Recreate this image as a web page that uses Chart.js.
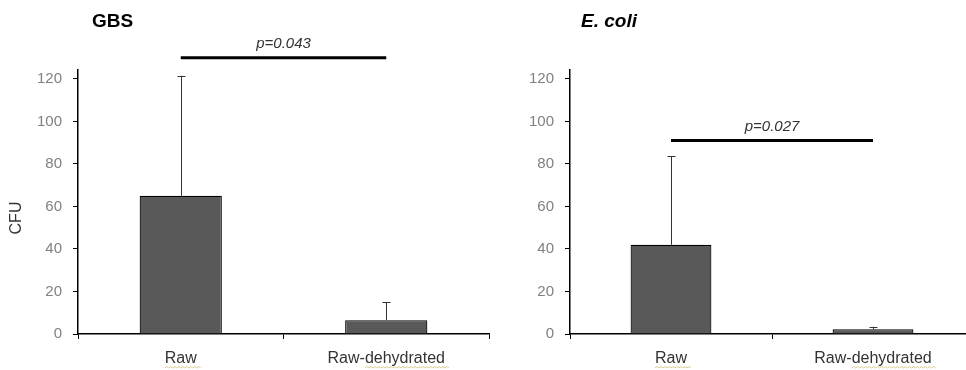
<!DOCTYPE html>
<html>
<head>
<meta charset="utf-8">
<script src="https://cdn.jsdelivr.net/npm/chart.js@4.4.1/dist/chart.umd.min.js"></script>
<style>
  body { margin: 0; background: #fff; overflow: hidden; }
  .panel { position: absolute; top: 0; }
</style>
</head>
<body>
<div class="panel" style="left:0px"><canvas id="gbs-chart" width="490" height="370"></canvas></div>
<div class="panel" style="left:490px"><canvas id="ecoli-chart" width="486" height="370"></canvas></div>
<script>
// Data (CFU, mean and top of the error bar)
const categories = ['Raw', 'Raw-dehydrated'];
const yTickValues = [0, 20, 40, 60, 80, 100, 120];

const gbsMeans = [65, 6.5];
const gbsErrorTops = [121.5, 15];
const gbsPText = 'p=0.043';
const gbsPLevel = 130;

const ecoliMeans = [42, 2.2];
const ecoliErrorTops = [83.6, 3.4];
const ecoliPText = 'p=0.027';
const ecoliPLevel = 91;

const fontFamily = "'Liberation Sans', Arial, sans-serif";

// Plugin that draws the error bars, the p-value bracket, titles and the CFU label
const extrasPlugin = {
    id: 'extras',
    afterDraw(chart, args, opts) {
        const ctx = chart.ctx;
        const xs = chart.scales.x;
        const ys = chart.scales.y;
        ctx.save();

        // Error bars (upper half only, with a small cap)
        ctx.strokeStyle = '#333';
        ctx.lineWidth = 1;
        opts.errorTops.forEach((top, i) => {
            const x = Math.round(xs.getPixelForValue(i)) + 0.5;
            const yMean = ys.getPixelForValue(opts.means[i]);
            const yTop = ys.getPixelForValue(top);
            ctx.beginPath();
            ctx.moveTo(x, yMean);
            ctx.lineTo(x, yTop);
            ctx.moveTo(x - 4, Math.round(yTop) + 0.5);
            ctx.lineTo(x + 4, Math.round(yTop) + 0.5);
            ctx.stroke();
        });

        // Significance line between the two bars
        const x1 = xs.getPixelForValue(0);
        const x2 = xs.getPixelForValue(1);
        const yLine = ys.getPixelForValue(opts.pLevel);
        ctx.strokeStyle = '#000';
        ctx.lineWidth = 3;
        ctx.beginPath();
        ctx.moveTo(x1, yLine);
        ctx.lineTo(x2, yLine);
        ctx.stroke();

        ctx.fillStyle = '#333';
        ctx.font = 'italic 15px ' + fontFamily;
        ctx.textAlign = 'center';
        ctx.textBaseline = 'alphabetic';
        ctx.fillText(opts.pText, (x1 + x2) / 2, yLine - 10);

        // Panel title
        ctx.fillStyle = '#000';
        ctx.font = (opts.italicTitle ? 'italic ' : '') + 'bold 19px ' + fontFamily;
        ctx.textAlign = 'left';
        ctx.textBaseline = 'middle';
        ctx.fillText(opts.title, opts.titleX, 22);

        // Y axis label
        if (opts.yLabel) {
            ctx.save();
            ctx.translate(17, 218);
            ctx.rotate(-Math.PI / 2);
            ctx.fillStyle = '#333';
            ctx.font = '16px ' + fontFamily;
            ctx.textAlign = 'center';
            ctx.textBaseline = 'middle';
            ctx.fillText(opts.yLabel, 0, 0);
            ctx.restore();
        }

        // Spell-check squiggles under the category labels
        ctx.font = '16px ' + fontFamily;
        ctx.strokeStyle = '#d9c98a';
        ctx.lineWidth = 1;
        categories.forEach((label, i) => {
            const cx = xs.getPixelForValue(i);
            const full = ctx.measureText(label).width;
            const skip = label.indexOf('-') >= 0 ? ctx.measureText(label.slice(0, label.indexOf('-') + 1)).width : 0;
            let sx = cx - full / 2 + skip;
            const ex = cx + full / 2 + 2;
            const sy = 368;
            ctx.beginPath();
            ctx.moveTo(sx, sy);
            let up = true;
            while (sx < ex) {
                sx += 2;
                ctx.lineTo(sx, up ? sy - 1.5 : sy);
                up = !up;
            }
            ctx.stroke();
        });

        ctx.restore();
    }
};

function makePanel(canvasId, means, errorTops, pText, pLevel, title, italicTitle, titleX, yLabel, yWidth, padRight) {
    let ctx = document.getElementById(canvasId);
    return new Chart(ctx, {
        type: 'bar',
        data: {
            labels: categories,
            datasets: [{
                data: means,
                backgroundColor: '#595959',
                borderColor: '#000',
                borderWidth: 1.2,
                barPercentage: 0.4,
                categoryPercentage: 1.0
            }]
        },
        options: {
            responsive: false,
            animation: false,
            layout: {
                padding: { top: 70, right: padRight, left: 0, bottom: 0 }
            },
            plugins: {
                legend: { display: false },
                tooltip: { enabled: false },
                extras: {
                    means: means,
                    errorTops: errorTops,
                    pText: pText,
                    pLevel: pLevel,
                    title: title,
                    italicTitle: italicTitle,
                    titleX: titleX,
                    yLabel: yLabel
                }
            },
            scales: {
                y: {
                    min: 0,
                    max: 124.2,
                    afterBuildTicks: scale => {
                        scale.ticks = yTickValues.map(v => ({ value: v }));
                    },
                    afterFit: scale => { scale.width = yWidth; },
                    grid: {
                        drawOnChartArea: false,
                        drawTicks: true,
                        tickLength: 5,
                        color: '#000'
                    },
                    border: { display: true, color: '#000', width: 1.5 },
                    ticks: {
                        color: '#808080',
                        padding: 11,
                        font: { family: fontFamily, size: 15 }
                    }
                },
                x: {
                    afterFit: scale => { scale.height = 36; },
                    grid: {
                        offset: true,
                        drawOnChartArea: false,
                        drawTicks: true,
                        tickLength: 5,
                        color: '#000'
                    },
                    border: { display: true, color: '#000', width: 1.5 },
                    ticks: {
                        color: '#333',
                        padding: 10,
                        font: { family: fontFamily, size: 16 }
                    }
                }
            }
        },
        plugins: [extrasPlugin]
    });
}

// Left panel: GBS
makePanel('gbs-chart', gbsMeans, gbsErrorTops, gbsPText, gbsPLevel, 'GBS', false, 92, 'CFU', 78, 1);

// Right panel: E. coli (its x axis runs past the right edge of the picture)
makePanel('ecoli-chart', ecoliMeans, ecoliErrorTops, ecoliPText, ecoliPLevel, 'E. coli', true, 91, null, 80, 2);
</script>
</body>
</html>
